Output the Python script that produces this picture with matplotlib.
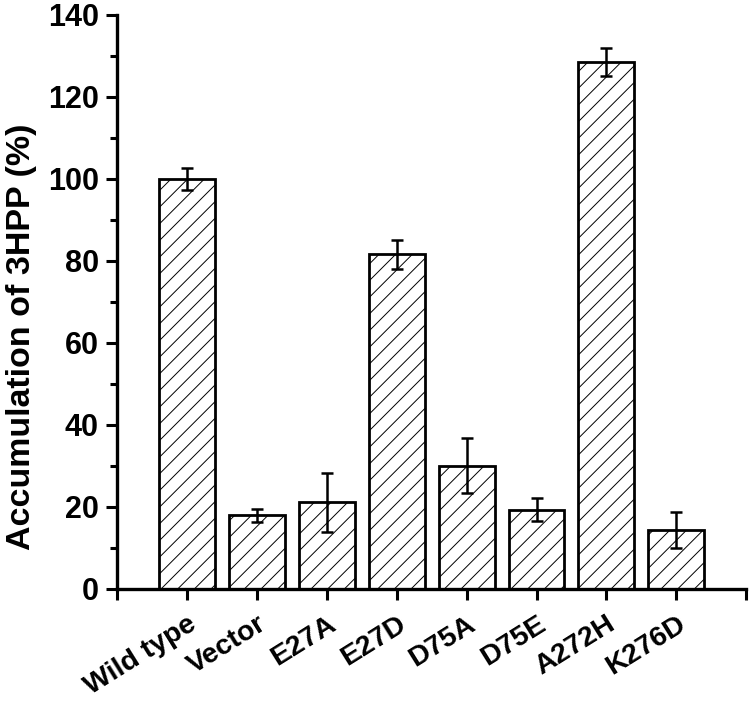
import matplotlib
matplotlib.use("Agg")
import matplotlib.pyplot as plt
from matplotlib.ticker import MultipleLocator

plt.rcParams['font.family'] = ['Liberation Sans', 'DejaVu Sans']
plt.rcParams['font.weight'] = 'bold'
plt.rcParams['hatch.linewidth'] = 0.7

categories = ["Wild type", "Vector", "E27A", "E27D", "D75A", "D75E", "A272H", "K276D"]
values = [100.0, 18.0, 21.2, 81.6, 30.1, 19.3, 128.6, 14.3]
errors = [2.8, 1.6, 7.2, 3.6, 6.8, 2.8, 3.4, 4.4]

fig = plt.figure(figsize=(7.5, 7.04), dpi=100)
ax = fig.add_axes([0.156, 0.1634, 0.839, 0.8153])

x = list(range(1, len(categories) + 1))
ax.bar(x, values, width=0.8, color='white', edgecolor='black', linewidth=2.0,
       hatch='//', zorder=2)
ax.errorbar(x, values, yerr=errors, fmt='none', ecolor='black', elinewidth=1.8,
            capsize=4.5, capthick=1.8, zorder=3)

ax.set_xlim(0, len(categories) + 1)
ax.set_ylim(0, 140)
ax.yaxis.set_major_locator(MultipleLocator(20))
ax.yaxis.set_minor_locator(MultipleLocator(10))
ax.set_xticks(range(0, len(categories) + 2))
ax.set_xticklabels([""] + categories + [""], rotation=32, ha='right',
                   va='top', rotation_mode='anchor', fontsize=20.5, fontweight='bold')
ax.tick_params(axis='x', which='major', length=8, width=2.2, pad=8, direction='out')
ax.tick_params(axis='y', which='major', length=8, width=2.2, pad=5, labelsize=22, direction='out')
ax.tick_params(axis='y', which='minor', length=5, width=2.2, direction='out')
for lab in ax.get_yticklabels():
    lab.set_fontweight('bold')

for s in ['top', 'right']:
    ax.spines[s].set_visible(False)
for s in ['left', 'bottom']:
    ax.spines[s].set_linewidth(2.4)

ax.set_ylabel("Accumulation of 3HPP (%)", fontsize=24.5, fontweight='bold')
ax.yaxis.set_label_coords(-0.127, 0.44)

fig.savefig("out.png", dpi=100, facecolor='white')
